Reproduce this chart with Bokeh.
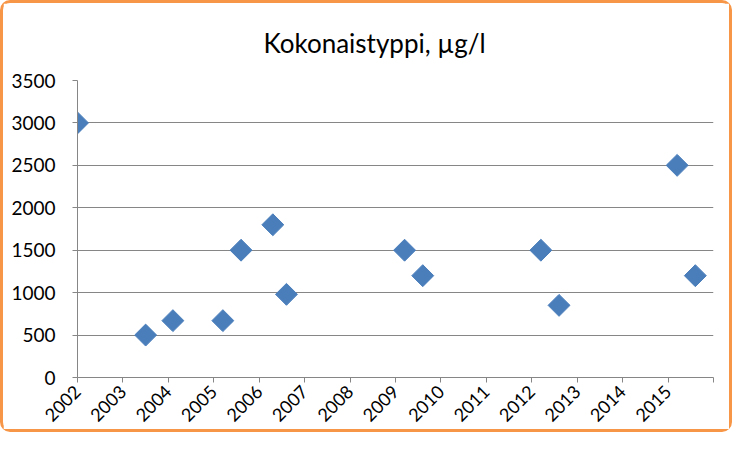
import math
from bokeh.plotting import figure
from bokeh.models import FixedTicker, Range1d
from bokeh.embed import file_html
from bokeh.resources import INLINE

# data (decimal year, value)
years = [2002.0, 2003.5, 2004.1, 2005.2, 2005.6, 2006.3, 2006.6,
         2009.2, 2009.6, 2012.2, 2012.6, 2015.2, 2015.6]
values = [3000, 500, 670, 670, 1500, 1800, 980,
          1500, 1200, 1500, 850, 2500, 1200]
x_ticks = list(range(2002, 2017))
y_ticks = list(range(0, 3501, 500))
title_text = "Kokonaistyppi, µg/l"

p = figure(width=732, height=432, output_backend="svg", toolbar_location=None,
           x_range=Range1d(2002, 2016), y_range=Range1d(0, 3500),
           min_border_left=74, min_border_right=22, min_border_top=77,
           min_border_bottom=58)
p.styles = {"border": "3px solid #F79646", "border-radius": "10px"}

p.title.text = title_text
p.title.align = "left"
p.title.offset = 186
p.title.text_font = "Lato"
p.title.text_font_size = "26px"
p.title.text_font_style = "normal"
p.title.text_color = "#000000"
p.title.standoff = 43

p.outline_line_color = None
p.background_fill_color = "white"
p.border_fill_color = "white"

p.xgrid.grid_line_color = None
p.ygrid.grid_line_color = "#868686"
p.ygrid.grid_line_width = 1

p.xaxis.ticker = FixedTicker(ticks=x_ticks)
p.xaxis.major_label_overrides = {2016: ""}
p.xaxis.major_label_orientation = math.pi / 4
p.yaxis.ticker = FixedTicker(ticks=y_ticks)

for ax in (p.xaxis, p.yaxis):
    ax.axis_line_color = "#868686"
    ax.major_tick_line_color = "#868686"
    ax.major_tick_in = 0
    ax.major_tick_out = 5
    ax.minor_tick_line_color = None
    ax.major_label_text_font = "Lato"
    ax.major_label_text_color = "#000000"

p.yaxis.major_label_text_font_size = "19px"
p.xaxis.major_label_text_font_size = "18px"
p.yaxis.major_label_standoff = 17
p.xaxis.major_label_standoff = 6

p.scatter(years, values, marker="square", angle=math.pi / 4, size=15.5,
          fill_color="#4A7EBB", line_color="#4A7EBB")

open("out.html", "w").write(file_html(p, INLINE))
